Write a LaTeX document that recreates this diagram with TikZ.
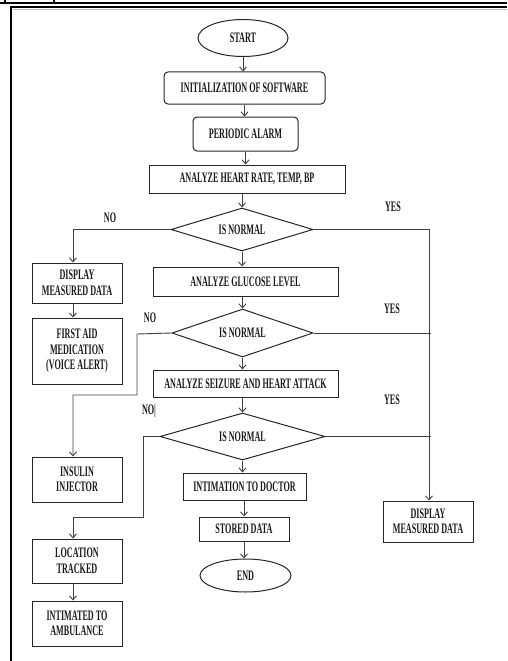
\documentclass[tikz,border=0pt]{standalone}
\usepackage{fontspec}
\setmainfont{Liberation Serif}[FakeStretch=0.56]
\usetikzlibrary{shapes.geometric,arrows.meta}
\tikzset{
 txt/.style={font=\fontsize{14.5}{15.5}\selectfont\bfseries, text=black!90, align=center},
 rbox/.style={txt, draw=black!85, line width=1pt, rounded corners=4pt, inner sep=0pt},
 sbox/.style={txt, draw=black!85, line width=1pt, inner sep=0pt},
 term/.style={txt, ellipse, draw=black!85, line width=1pt, inner sep=0pt},
 dec/.style={txt, diamond, shape aspect=3, draw=black!85, line width=1pt, inner sep=0pt},
 conn/.style={draw=black!75, line width=0.9pt},
 arr/.style={conn, -{Straight Barb[length=4pt,width=7pt]}},
 lbl/.style={txt, inner sep=0pt}
}
\begin{document}
\begin{tikzpicture}[x=1pt,y=-1pt]
\useasboundingbox (0,0) rectangle (507,661);
% frame
\draw[line width=1.8pt] (0,3) -- (507,3);
\draw[line width=1.2pt] (5,0) -- (5,3) (54,0) -- (54,3);
\draw[gray!50, line width=1pt] (13,9.5) -- (507,9.5);
\draw[line width=2pt] (507,7.5) -- (11,7.5) -- (11,661);
% main column
\node[term, minimum width=90pt, minimum height=37pt] (start) at (243,38) {START};
\node[rbox, minimum width=161pt, minimum height=32pt] (init) at (244.5,88) {INITIALIZATION OF SOFTWARE};
\node[rbox, minimum width=105pt, minimum height=34pt] (alarm) at (245.5,134) {PERIODIC ALARM};
\node[sbox, minimum width=196pt, minimum height=28pt] (heart) at (247,179) {ANALYZE HEART RATE, TEMP, BP};
\node[dec, minimum width=142pt, minimum height=43pt] (d1) at (242,229.5) {IS NORMAL};
\node[sbox, minimum width=185pt, minimum height=29pt] (glucose) at (245.5,281.5) {ANALYZE GLUCOSE LEVEL};
\node[dec, minimum width=141pt, minimum height=48pt] (d2) at (242.5,333) {IS NORMAL};
\node[sbox, minimum width=185pt, minimum height=27pt] (seizure) at (245.5,383.5) {ANALYZE SEIZURE AND HEART ATTACK};
\node[dec, minimum width=165pt, minimum height=47pt] (d3) at (242.5,436.5) {IS NORMAL};
\node[sbox, minimum width=123pt, minimum height=27pt] (doctor) at (244.5,486.5) {INTIMATION TO DOCTOR};
\node[sbox, minimum width=90pt, minimum height=24pt] (stored) at (244,529) {STORED DATA};
\node[term, minimum width=91pt, minimum height=33pt] (end) at (245.5,575.5) {END};
% left column
\node[sbox, minimum width=90pt, minimum height=40pt] (disp1) at (77,283) {DISPLAY\\MEASURED DATA};
\node[sbox, minimum width=90pt, minimum height=66pt] (aid) at (77,351) {FIRST AID\\MEDICATION\\(VOICE ALERT)};
\node[sbox, minimum width=90pt, minimum height=45pt] (insulin) at (77,479.5) {INSULIN\\INJECTOR};
\node[sbox, minimum width=90pt, minimum height=44pt] (location) at (77,561) {LOCATION\\TRACKED};
\node[sbox, minimum width=90pt, minimum height=45pt] (amb) at (77,623.5) {INTIMATED TO\\AMBULANCE};
% right
\node[sbox, minimum width=90pt, minimum height=41pt] (disp2) at (428,521.5) {DISPLAY\\MEASURED DATA};
% labels
\node[lbl] (no1) at (110,218) {NO};
\node[lbl] (yes1) at (393,207) {YES};
\node[lbl] (no2) at (150,318) {NO};
\node[lbl] (yes2) at (392,309) {YES};
\node[lbl] (no3) at (149,411) {NO|};
\node[lbl] (yes3) at (392,400) {YES};
% main arrows
\draw[arr] (start.south) -- (start.south |- init.north);
\draw[arr] (init.south) -- (init.south |- alarm.north);
\draw[arr] (alarm.south) -- (alarm.south |- heart.north);
\draw[arr] (heart.south -| d1.north) -- (d1.north);
\draw[arr] (d1.south) -- (d1.south |- glucose.north);
\draw[arr] (glucose.south -| d2.north) -- (d2.north);
\draw[arr] (d2.south) -- (d2.south |- seizure.north);
\draw[arr] (seizure.south -| d3.north) -- (d3.north);
\draw[arr] (d3.south) -- (d3.south |- doctor.north);
\draw[arr] (doctor.south -| stored.north) -- (stored.north);
\draw[arr] (stored.south) -- (stored.south |- end.north);
% left branches
\coordinate (c1) at (73,229.5);
\draw[arr] (d1.west) -- (c1) -- (c1 |- disp1.north);
\draw[arr] (disp1.south -| c1) -- (aid.north -| c1);
\coordinate (c2a) at (137,334);
\coordinate (c2b) at (137,395);
\coordinate (c2c) at (73,395);
\draw[arr] (d2.west) -- (c2a) -- (c2b) -- (c2c) -- (c2c |- insulin.north);
\coordinate (c3a) at (143,436.5);
\coordinate (c3b) at (143,517);
\coordinate (c3c) at (73,517);
\draw[arr] (d3.west) -- (c3a) -- (c3b) -- (c3c) -- (c3c |- location.north);
\draw[arr] (location.south -| c1) -- (amb.north -| c1);
% right branches
\coordinate (r1) at (429,229.5);
\draw[arr] (d1.east) -- (r1) -- (r1 |- disp2.north);
\coordinate (r2) at (431,333);
\draw[conn] (d2.east) -- (d2.east -| r2);
\draw[conn] (d3.east) -- (d3.east -| r2);
\end{tikzpicture}
\end{document}
